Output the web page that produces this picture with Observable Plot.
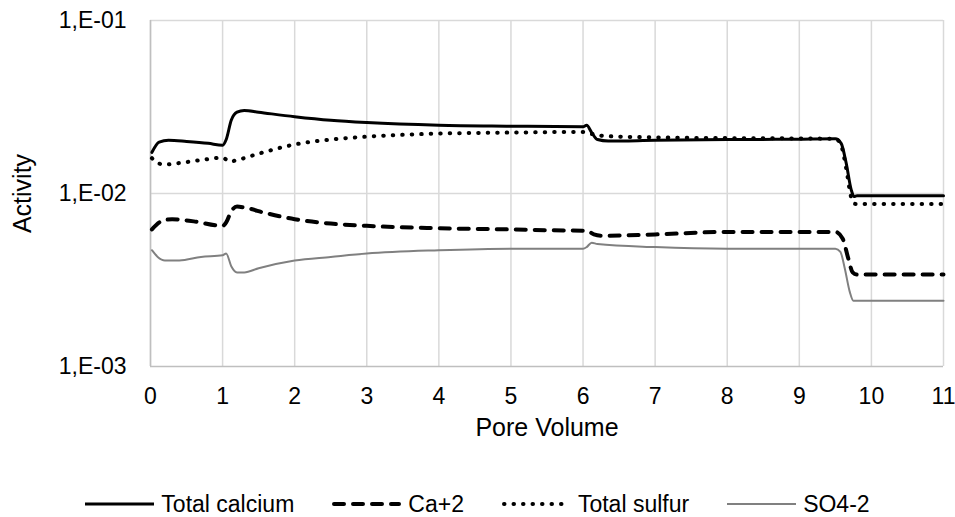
<!DOCTYPE html>
<html><head><meta charset="utf-8">
<script src="https://cdn.jsdelivr.net/npm/d3@7"></script>
<script src="https://cdn.jsdelivr.net/npm/@observablehq/plot@0.6"></script>
<style>
body{margin:0;background:#fff;font-family:"Liberation Sans",Arial,sans-serif;width:955px;height:517px;overflow:hidden;}
#chart svg{display:block;}
#chart svg g[aria-label="x-axis tick label"], #chart svg g[aria-label="y-axis tick label"]{font-size:23px;}
#legend{display:flex;justify-content:center;align-items:center;height:26px;margin-top:29px;padding-left:0px;font-size:23px;color:#000;}
.item{display:flex;align-items:center;margin:0 19px;}
.item svg{margin-right:7px;display:block;}
</style></head><body>
<div id="chart"></div>
<div id="legend"></div>
<script>
// Tick values
const xTicks = [0,1,2,3,4,5,6,7,8,9,10,11];
const yTicks = [0.001, 0.01, 0.1];

// Series: Total calcium
const tcX = [0.02,0.12,0.25,0.5,0.8,1.0,1.05,1.12,1.2,1.3,1.5,2,2.5,3,4,5,6,6.05,6.12,6.2,6.35,7,8,9,9.5,9.58,9.65,9.72,9.76,9.8,10,11];
const tcY = [0.0173,0.0198,0.0203,0.0200,0.0195,0.0190,0.0205,0.0265,0.0295,0.0302,0.0295,0.0278,0.0265,0.0257,0.0248,0.0245,0.0243,0.0248,0.0225,0.0205,0.0201,0.0203,0.0205,0.0206,0.0207,0.0195,0.0150,0.0105,0.0096,0.0097,0.0097,0.0097];

// Series: Ca+2
const caX = [0.02,0.15,0.3,0.6,1.0,1.05,1.12,1.2,1.3,1.6,2,2.5,3,4,5,6,6.05,6.15,6.25,7,8,9,9.5,9.6,9.68,9.74,9.8,10,11];
const caY = [0.0062,0.0069,0.0071,0.0069,0.0065,0.0068,0.0079,0.0084,0.0083,0.0077,0.0071,0.0067,0.0065,0.0063,0.0062,0.0061,0.0061,0.0058,0.0057,0.0058,0.0060,0.0060,0.0060,0.0055,0.0042,0.0035,0.0034,0.0034,0.0034];

// Series: Total sulfur
const tsX = [0.02,0.1,0.2,0.4,0.7,1.0,1.1,1.2,1.5,2,2.5,3,4,5,6,6.1,6.3,7,8,9,9.5,9.58,9.65,9.72,9.78,10,11];
const tsY = [0.0160,0.0150,0.0147,0.0150,0.0156,0.0161,0.0153,0.0156,0.0170,0.0192,0.0205,0.0213,0.0222,0.0225,0.0227,0.0222,0.0215,0.0211,0.0209,0.0208,0.0207,0.0190,0.0140,0.0095,0.0087,0.0087,0.0087];

// Series: SO4-2
const soX = [0.02,0.1,0.2,0.4,0.7,1.0,1.05,1.12,1.2,1.3,1.5,2,2.5,3,4,5,6,6.05,6.12,6.2,7,8,9,9.5,9.57,9.63,9.7,9.75,9.8,10,11];
const soY = [0.0047,0.0043,0.0041,0.0041,0.0043,0.0044,0.0045,0.0038,0.0035,0.0035,0.0037,0.0041,0.0043,0.0045,0.0047,0.0048,0.0048,0.0049,0.0052,0.0051,0.0049,0.0048,0.0048,0.0048,0.0046,0.0037,0.0027,0.0024,0.0024,0.0024,0.0024];

const seriesNames = ["Total calcium","Ca+2","Total sulfur","SO4-2"];
const styles = [
  {stroke:"#000", strokeWidth:3},
  {stroke:"#000", strokeWidth:4, strokeDasharray:"10,9", strokeLinecap:"round"},
  {stroke:"#000", strokeWidth:4, strokeDasharray:"0.5,9", strokeLinecap:"round"},
  {stroke:"#808080", strokeWidth:2}
];
const xs = [tcX, caX, tsX, soX], ys = [tcY, caY, tsY, soY];
const rows = xs.map((xa,i)=>xa.map((x,j)=>({x, y: ys[i][j]})));

const fmt = d => "1,E-" + String(-Math.round(Math.log10(d))).padStart(2,"0");
const H = 462;
const plot = Plot.plot({
  width: 955, height: H,
  marginLeft: 150, marginRight: 12, marginTop: 20, marginBottom: H - 366,
  style: {fontFamily: "'Liberation Sans', Arial, sans-serif", fontSize: "23px", color: "#000", background: "#fff", overflow: "visible"},
  x: {domain: [0, 11], label: null},
  y: {type: "log", domain: [0.001, 0.1], label: null},
  marks: [
    Plot.gridX(xTicks, {stroke: "#d9d9d9", strokeOpacity: 1, strokeWidth: 1.5}),
    Plot.gridY([0.01, 0.1], {stroke: "#d9d9d9", strokeOpacity: 1, strokeWidth: 1.5}),
    Plot.ruleY([0.001], {stroke: "#bfbfbf", strokeWidth: 1.5}),
    Plot.ruleX([0], {stroke: "#bfbfbf", strokeWidth: 1.5}),
    Plot.axisX({ticks: xTicks, tickSize: 0, tickPadding: 21, fontSize: 23, label: null, tickFormat: d => String(d)}),
    Plot.axisY({ticks: yTicks, tickSize: 0, tickPadding: 24, fontSize: 23, label: null, tickFormat: fmt}),
    ...rows.map((r,i) => Plot.line(r, {x: "x", y: "y", curve: "monotone-x", ...styles[i]})),
    Plot.text(["Pore Volume"], {frameAnchor: "bottom", dy: 69, fontSize: 25, text: d => d}),
    Plot.text(["Activity"], {frameAnchor: "left", dx: -128, rotate: -90, textAnchor: "middle", fontSize: 25, text: d => d})
  ]
});
document.getElementById("chart").appendChild(plot);

// Legend
const leg = document.getElementById("legend");
seriesNames.forEach((name,i) => {
  const it = document.createElement("div");
  it.className = "item";
  const s = styles[i];
  const dash = s.strokeDasharray ? `stroke-dasharray="${s.strokeDasharray}"` : "";
  const cap = s.strokeLinecap ? `stroke-linecap="${s.strokeLinecap}"` : "";
  it.innerHTML = `<svg width="69" height="12"><line x1="${s.strokeLinecap?2:0}" y1="6" x2="${s.strokeLinecap?67:69}" y2="6" stroke="${s.stroke}" stroke-width="${s.strokeWidth}" ${dash} ${cap}/></svg><span>${name}</span>`;
  leg.appendChild(it);
});
</script>
</body></html>
